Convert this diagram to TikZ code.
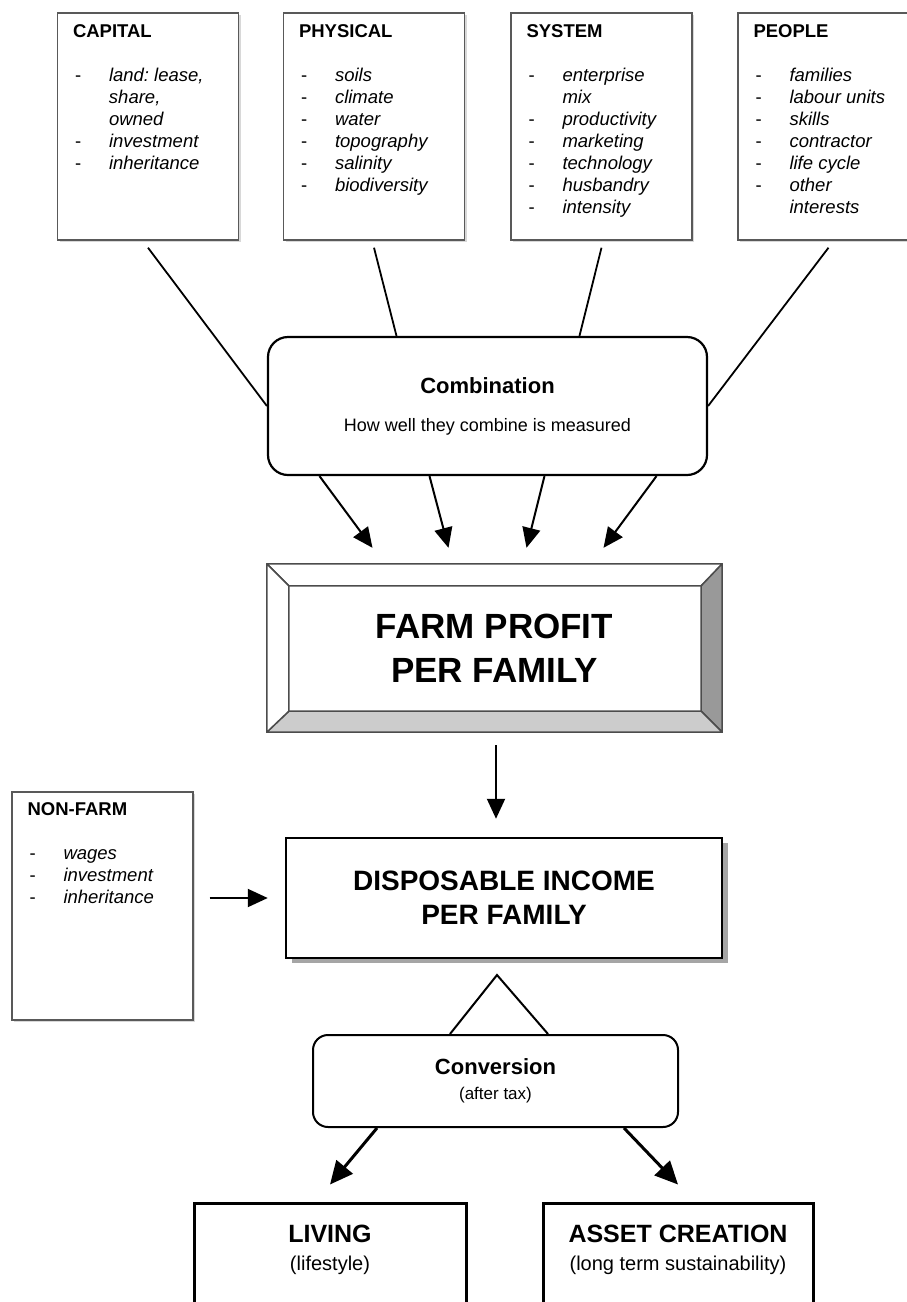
\documentclass[tikz,border=0pt]{standalone}
\usepackage{fontspec}
\setmainfont{Liberation Sans}
\usetikzlibrary{positioning,arrows.meta,calc,shadows}
\frenchspacing

\newcommand{\itm}[1]{\makebox[36pt][l]{\hspace{2pt}-}\textit{#1}}
\newcommand{\itc}[1]{\makebox[36pt]{}\textit{#1}}

\begin{document}
\begin{tikzpicture}
	[x=1pt,y=-1pt,
	factor/.style={draw=black!65,line width=1.4pt,fill=white,inner sep=0pt,
		minimum width=181pt,minimum height=227pt,
		drop shadow={shadow xshift=2pt,shadow yshift=-2pt,fill=black!30}},
	listtxt/.style={anchor=north west,align=left,inner sep=0pt,font=\fontsize{18.5}{22}\selectfont},
	link/.style={draw,line width=1.8pt},
	arr/.style={draw,line width=2pt,-{Triangle[length=20pt,width=18pt]}},
	arrthick/.style={draw,line width=3pt,-{Triangle[length=23pt,width=21pt]}},
	bevel/.style={draw=black!70,line width=1.5pt,line join=round},
	outcome/.style={draw,line width=3pt,minimum height=160pt}]
	\useasboundingbox (0,0) rectangle (907,1302);
	% the four factors
	\node[factor] (capital) at (148,126.5) {};
	\node[listtxt] (capitalTxt) at ([shift={(16pt,-12pt)}]capital.north west)
		{\textbf{CAPITAL}\\[22pt]\itm{land: lease,}\\\itc{share,}\\\itc{owned}\\\itm{investment}\\\itm{inheritance}};
	\node[factor] (physical) at (374,126.5) {};
	\node[listtxt] (physicalTxt) at ([shift={(16pt,-12pt)}]physical.north west)
		{\textbf{PHYSICAL}\\[22pt]\itm{soils}\\\itm{climate}\\\itm{water}\\\itm{topography}\\\itm{salinity}\\\itm{biodiversity}};
	\node[factor] (system) at (601.5,126.5) {};
	\node[listtxt] (systemTxt) at ([shift={(16pt,-12pt)}]system.north west)
		{\textbf{SYSTEM}\\[22pt]\itm{enterprise}\\\itc{mix}\\\itm{productivity}\\\itm{marketing}\\\itm{technology}\\\itm{husbandry}\\\itm{intensity}};
	\node[factor] (people) at (828.5,126.5) {};
	\node[listtxt] (peopleTxt) at ([shift={(16pt,-12pt)}]people.north west)
		{\textbf{PEOPLE}\\[22pt]\itm{families}\\\itm{labour units}\\\itm{skills}\\\itm{contractor}\\\itm{life cycle}\\\itm{other}\\\itc{interests}};
	% combination
	\node[draw,line width=2.2pt,rounded corners=20pt,minimum width=439pt,minimum height=138pt,align=center,
		font=\fontsize{18}{28}\selectfont] (comb) at (487.5,406)
		{{\bfseries\fontsize{22}{28}\selectfont Combination}\\[10pt]How well they combine is measured};
	\draw[link] ([yshift=-7pt]capital.south) -- (comb.west);
	\draw[link] ([yshift=-7pt]physical.south) -- ([xshift=-91pt]comb.north);
	\draw[link] ([yshift=-7pt]system.south) -- ([xshift=92pt]comb.north);
	\draw[link] ([yshift=-7pt]people.south) -- (comb.east);
	% farm profit
	\node[minimum width=455pt,minimum height=168pt,align=center,
		font=\bfseries\fontsize{35}{44}\selectfont] (farm) at (494.5,648) {FARM PROFIT\\PER FAMILY};
	\coordinate (fi1) at ([shift={(22pt,-22pt)}]farm.north west);
	\coordinate (fi2) at ([shift={(-21pt,-22pt)}]farm.north east);
	\coordinate (fi3) at ([shift={(-21pt,21pt)}]farm.south east);
	\coordinate (fi4) at ([shift={(22pt,21pt)}]farm.south west);
	\filldraw[bevel,fill=white] (farm.north west) -- (farm.north east) -- (fi2) -- (fi1) -- cycle;
	\filldraw[bevel,fill=black!40] (farm.north east) -- (farm.south east) -- (fi3) -- (fi2) -- cycle;
	\filldraw[bevel,fill=black!20] (farm.south east) -- (farm.south west) -- (fi4) -- (fi3) -- cycle;
	\filldraw[bevel,fill=white] (farm.south west) -- (farm.north west) -- (fi1) -- (fi4) -- cycle;
	\draw[arr] ([xshift=-168pt]comb.south) -- ([shift={(-122pt,16pt)}]farm.north);
	\draw[arr] ([xshift=-58pt]comb.south) -- ([shift={(-46pt,16pt)}]farm.north);
	\draw[arr] ([xshift=57pt]comb.south) -- ([shift={(32pt,16pt)}]farm.north);
	\draw[arr] ([xshift=169pt]comb.south) -- ([shift={(109pt,16pt)}]farm.north);
	% disposable income
	\node[draw,line width=2.5pt,fill=white,minimum width=436pt,minimum height=120pt,align=center,
		drop shadow={shadow xshift=6pt,shadow yshift=-5pt,fill=black!70},
		font=\bfseries\fontsize{28}{34}\selectfont] (disp) at (504,898) {DISPOSABLE INCOME\\PER FAMILY};
	\draw[arr] ([shift={(1.5pt,-13pt)}]farm.south) -- ([shift={(-8pt,18pt)}]disp.north);
	\node[factor,minimum height=228pt] (nonfarm) at (102.5,906) {};
	\node[listtxt] (nonfarmTxt) at ([shift={(16pt,-11pt)}]nonfarm.north west)
		{\textbf{NON-FARM}\\[22pt]\itm{wages}\\\itm{investment}\\\itm{inheritance}};
	\draw[arr] ([shift={(16pt,8pt)}]nonfarm.east) -- ([xshift=-17pt]disp.west);
	% conversion
	\node[draw,line width=2pt,rounded corners=15pt,minimum width=365pt,minimum height=92pt,align=center,
		font=\fontsize{17}{25}\selectfont] (conv) at (495.5,1081)
		{{\bfseries\fontsize{22}{25}\selectfont Conversion}\\(after tax)};
	\coordinate (tentTop) at (497,975);
	\draw[line width=2pt] ([xshift=-45.5pt]conv.north) -- (tentTop) -- ([xshift=52.5pt]conv.north);
	% outcomes
	\node[outcome,minimum width=272pt] (living) at (330,1283) {};
	\node[outcome,minimum width=270pt] (asset) at (678,1283) {};
	\node[align=center,font=\fontsize{20}{28}\selectfont] (livingTxt) at ([yshift=-48pt]living.north)
		{{\bfseries\fontsize{25}{28}\selectfont LIVING}\\(lifestyle)};
	\node[align=center,font=\fontsize{20}{28}\selectfont] (assetTxt) at ([yshift=-48pt]asset.north)
		{{\bfseries\fontsize{25}{28}\selectfont ASSET CREATION}\\(long term sustainability)};
	\draw[arrthick] ([xshift=-118.5pt]conv.south) -- ([yshift=17pt]living.north);
	\draw[arrthick] ([xshift=128.5pt]conv.south) -- ([yshift=17pt]asset.north);
\end{tikzpicture}
\end{document}
